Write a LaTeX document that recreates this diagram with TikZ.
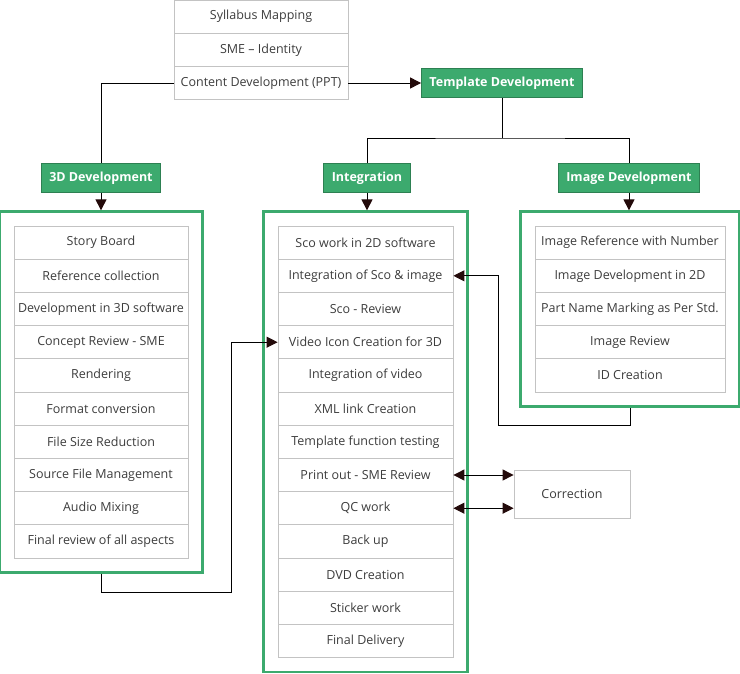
\documentclass[tikz,border=0pt]{standalone}
\usepackage{fontspec}
\setmainfont{Open Sans}
\usetikzlibrary{arrows.meta,fit}
\definecolor{stepgreen}{RGB}{60,170,110}
\definecolor{rowgray}{RGB}{195,195,195}
\definecolor{txtgray}{RGB}{60,60,60}
\definecolor{tipdark}{RGB}{35,10,10}
\def\rowh{33.2}
\def\rowtop{226}

\begin{document}
\begin{tikzpicture}[x=1pt, y=-1pt, line width=1pt,
    >={Triangle[length=11pt,width=11pt,color=tipdark]},
    row/.style={draw=rowgray, line width=0.8pt, text=txtgray, inner sep=0pt,
      minimum height=\rowh pt, font=\fontsize{12.5}{15}\selectfont},
    lab/.style={fill=stepgreen, draw=stepgreen!75!black, line width=0.8pt, text=white,
      minimum height=29pt, inner xsep=8pt, font=\bfseries\fontsize{12.5}{15}\selectfont},
    outer/.style={draw=stepgreen, line width=2.5pt, inner sep=14pt}]
    \useasboundingbox (0,0) rectangle (740,673);

    % Bloque superior
    \foreach \t [count=\i] in {Syllabus Mapping, SME -- Identity, Content Development (PPT)}
      \node[row, minimum width=174pt] (t\i) at (261, {\rowh*(\i-0.5)}) {\t};

    % Etiquetas verdes
    \node[lab] (tlab) at (502,83) {Template Development};
    \node[lab] (dlab) at (101,178) {3D Development};
    \node[lab] (ilab) at (367,178) {Integration};
    \node[lab] (mlab) at (629,178) {Image Development};

    % Columna 3D
    \foreach \t [count=\i] in {Story Board, Reference collection, Development in 3D software,
        Concept Review - SME, Rendering, Format conversion, File Size Reduction,
        Source File Management, Audio Mixing, Final review of all aspects}
      \node[row, minimum width=174pt] (d\i) at (101, {\rowtop+\rowh*(\i-0.5)}) {\t};
    \node[outer, fit=(d1)(d10)] (dbox) {};

    % Columna integracion
    \foreach \t [count=\i] in {Sco work in 2D software, Integration of Sco \& image, Sco - Review,
        Video Icon Creation for 3D, Integration of video, XML link Creation,
        Template function testing, Print out - SME Review, QC work, Back up,
        DVD Creation, Sticker work, Final Delivery}
      \node[row, minimum width=175pt] (i\i) at (365.5, {\rowtop+\rowh*(\i-0.5)}) {\t};
    \node[outer, fit=(i1)(i13)] (ibox) {};

    % Columna imagen
    \foreach \t [count=\i] in {Image Reference with Number, Image Development in 2D,
        Part Name Marking as Per Std., Image Review, ID Creation}
      \node[row, minimum width=190pt] (m\i) at (630, {\rowtop+\rowh*(\i-0.5)}) {\t};
    \node[outer, fit=(m1)(m5)] (mbox) {};

    \node[row, minimum width=116pt, minimum height=48pt] (corr) at (572,494) {Correction};

    % Conectores
    \draw (t3.west) -| (dlab.north);
    \draw[->] (t3.east) -- (t3.east -| tlab.west);
    \coordinate (split) at (tlab.south |- 0,138);
    \draw (tlab.south) -- (split);
    \draw (ilab.north) |- (split) -| (mlab.north);
    \draw[->] (dlab.south) -- (dlab.south |- dbox.north);
    \draw[->] (ilab.south) -- (ilab.south |- ibox.north);
    \draw[->] (mlab.south) -- (mlab.south |- mbox.north);

    % Retornos a integracion
    \coordinate (dturn) at (231,592);
    \draw[->] (dbox.south) |- (dturn) |- (i4.west);
    \coordinate (mturn) at (498,425);
    \draw[->] (mbox.south) |- (mturn) |- (i2.east);

    % Correccion
    \draw[<->] (i8.east) -- (i8.east -| corr.west);
    \draw[<->] (i9.east) -- (i9.east -| corr.west);
  \end{tikzpicture}
\end{document}
